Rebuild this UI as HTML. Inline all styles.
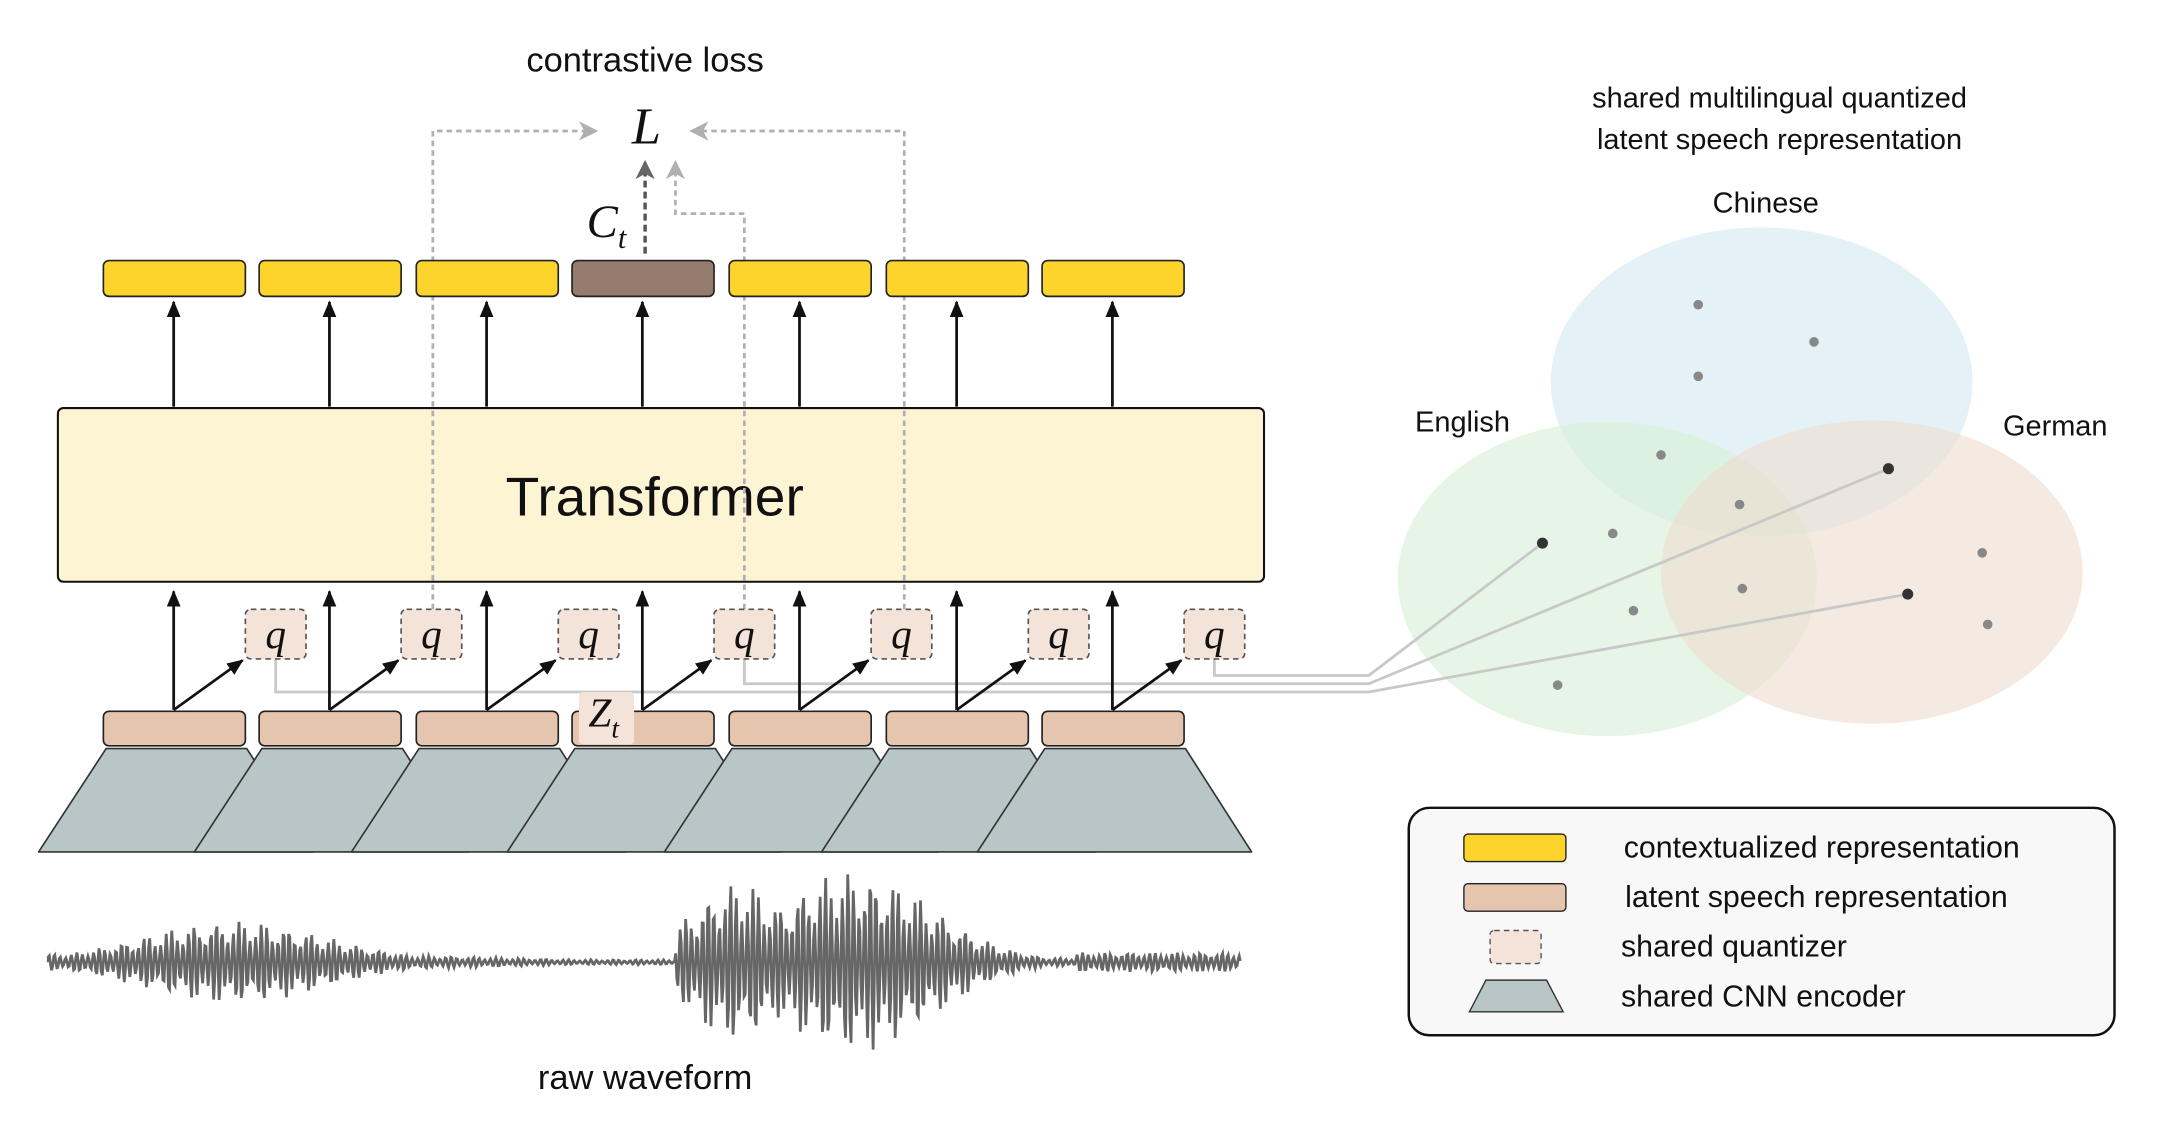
<!DOCTYPE html>
<html><head><meta charset="utf-8"><style>
html,body{margin:0;padding:0;background:#fff;}
svg{display:block;}
text{font-family:"Liberation Sans",sans-serif;fill:#111;}
.m{font-family:"Liberation Serif",serif;font-style:italic;}
</style></head><body>
<svg id="s" width="2160" height="1137" viewBox="0 0 1567 824.8" preserveAspectRatio="none" xmlns="http://www.w3.org/2000/svg">
<defs>
<marker id="ab" markerWidth="12" markerHeight="10" refX="11" refY="5" orient="auto" markerUnits="userSpaceOnUse"><path d="M0,0 L12,5 L0,10 z" fill="#111"/></marker>
<marker id="ag" markerWidth="14" markerHeight="14" refX="12" refY="7" orient="auto" markerUnits="userSpaceOnUse"><path d="M0,0 L14,7 L0,14 L4,7 z" fill="#b0b0b0"/></marker>
<marker id="ad" markerWidth="14" markerHeight="14" refX="12" refY="7" orient="auto" markerUnits="userSpaceOnUse"><path d="M0,0 L14,7 L0,14 L4,7 z" fill="#666"/></marker>
</defs>

<text x="468" y="52" font-size="25" text-anchor="middle">contrastive loss</text>
<text x="469" y="104" font-size="38" class="m" text-anchor="middle">L</text>
<text x="440" y="172" font-size="34" class="m" text-anchor="middle">C<tspan font-size="22" dy="8">t</tspan></text>

<ellipse cx="1278" cy="277" rx="153" ry="112" fill="#d9edf4" opacity="0.7"/>
<ellipse cx="1166" cy="420" rx="152" ry="114" fill="#d8f0d8" opacity="0.65"/>
<ellipse cx="1358" cy="415" rx="153" ry="110" fill="#efdccd" opacity="0.6"/>
<text x="1291" y="78" font-size="21" text-anchor="middle">shared multilingual quantized</text>
<text x="1291" y="108" font-size="21" text-anchor="middle">latent speech representation</text>
<text x="1281" y="154" font-size="21" text-anchor="middle">Chinese</text>
<text x="1061" y="313" font-size="21" text-anchor="middle">English</text>
<text x="1491" y="316" font-size="21" text-anchor="middle">German</text>
<g fill="#888">
<circle cx="1232" cy="221" r="3.5"/><circle cx="1316" cy="248" r="3.5"/><circle cx="1232" cy="273" r="3.5"/>
<circle cx="1205" cy="330" r="3.5"/><circle cx="1262" cy="366" r="3.5"/><circle cx="1170" cy="387" r="3.5"/>
<circle cx="1264" cy="427" r="3.5"/><circle cx="1185" cy="443" r="3.5"/><circle cx="1130" cy="497" r="3.5"/>
<circle cx="1438" cy="401" r="3.5"/><circle cx="1442" cy="453" r="3.5"/>
</g>

<g fill="none" stroke="#c8c8c8" stroke-width="2">
<polyline points="200,478 200,502 993,502 1384,431"/>
<polyline points="540,478 540,496 993,496 1370,340"/>
<polyline points="881,478 881,490 993,490 1119,394"/>
</g>
<g fill="#333"><circle cx="1119" cy="394" r="4"/><circle cx="1370" cy="340" r="4"/><circle cx="1384" cy="431" r="4"/></g>

<rect x="42" y="296" width="875" height="126" rx="4" fill="#fdf4d4" stroke="#111" stroke-width="1.5"/>
<text x="475" y="374" font-size="40" text-anchor="middle">Transformer</text>

<g fill="none" stroke="#b0b0b0" stroke-width="2" stroke-dasharray="4,3">
<polyline points="314,442 314,95 432,95" marker-end="url(#ag)"/>
<polyline points="656,442 656,95 502,95" marker-end="url(#ag)"/>
<polyline points="540,442 540,155 490,155 490,118" marker-end="url(#ag)"/>
</g>
<line x1="468" y1="184" x2="468" y2="118" stroke="#555" stroke-width="2.5" stroke-dasharray="5,3" marker-end="url(#ad)"/>

<g id="cols"></g>

<rect x="1022" y="586" width="512" height="165" rx="15" fill="#f8f8f8" stroke="#111" stroke-width="1.8"/>
<rect x="1062" y="605" width="74" height="20" rx="3" fill="#fdd42c" stroke="#222"/>
<rect x="1062" y="641" width="74" height="20" rx="3" fill="#e6c5ae" stroke="#222"/>
<rect x="1081" y="675" width="37" height="24" rx="3" fill="#f3e3d8" stroke="#555" stroke-dasharray="4,3"/>
<polygon points="1078,711 1122,711 1134,734 1066,734" fill="#b8c6c8" stroke="#333"/>
<text x="1178" y="622" font-size="22">contextualized representation</text>
<text x="1179" y="658" font-size="22">latent speech representation</text>
<text x="1176" y="694" font-size="22">shared quantizer</text>
<text x="1176" y="730" font-size="22">shared CNN encoder</text>

<path id="wave" fill="none" stroke="#666" stroke-width="2"/>
<text x="468" y="790" font-size="25" text-anchor="middle">raw waveform</text>
</svg>
<script>
var NS="http://www.w3.org/2000/svg",g=document.getElementById("cols");
function el(t,a){var e=document.createElementNS(NS,t);for(var k in a)e.setAttribute(k,a[k]);g.appendChild(e);return e;}
var cs=[126,239,353,466,580,694,807];
cs.forEach(function(c){var L=c-51;el("polygon",{points:(L+2)+",543 "+(L+104)+",543 "+(L+152)+",618 "+(L-47)+",618",fill:"#b8c6c8",stroke:"#333","stroke-width":"1.2","stroke-linejoin":"round"});});
cs.forEach(function(c,i){
 el("rect",{x:c-51,y:189,width:103,height:26,rx:4,fill:i==3?"#947d6e":"#fdd42c",stroke:"#222","stroke-width":"1.2"});
 el("line",{x1:c,y1:295,x2:c,y2:219,stroke:"#111","stroke-width":"2","marker-end":"url(#ab)"});
 el("rect",{x:c-51,y:516,width:103,height:25,rx:4,fill:"#e6c5ae",stroke:"#222","stroke-width":"1.2"});
 el("line",{x1:c,y1:515,x2:c,y2:429,stroke:"#111","stroke-width":"2","marker-end":"url(#ab)"});
 el("line",{x1:c,y1:515,x2:c+50,y2:479,stroke:"#111","stroke-width":"2","marker-end":"url(#ab)"});
});
cs.forEach(function(c){var x=c+74;
 el("rect",{x:x-22,y:442,width:44,height:36,rx:4,fill:"#f3e3d8",stroke:"#555","stroke-width":"1.2","stroke-dasharray":"4,3"});
 var t=el("text",{x:x,y:470,"font-size":"30","class":"m","text-anchor":"middle"});t.textContent="q";
});
el("rect",{x:420,y:502,width:40,height:38,rx:3,fill:"#f3e3d8"});
var z=el("text",{x:438,y:527,"font-size":"30","class":"m","text-anchor":"middle"});z.innerHTML='Z<tspan font-size="20" dy="8">t</tspan>';
var d="M35,698";
function env(x){
 if(x<295){var a=Math.exp(-Math.pow((x-170)/95,2))*30;return Math.max(a,6);}
 if(x<490)return 4*Math.max(0.2,1-(x-295)/150)+1;
 if(x<780){return Math.max(Math.exp(-Math.pow((x-535)/50,2))*58,Math.exp(-Math.pow((x-620)/80,2))*66,3);}
 return Math.max(Math.exp(-Math.pow((x-620)/80,2))*66,7);
}
for(var x=35;x<=900;x+=0.8){var s=Math.sin(x*1.55)*(0.75+0.25*Math.sin(x*0.37));d+=" L"+x.toFixed(1)+","+(698+env(x)*s).toFixed(1);}
document.getElementById("wave").setAttribute("d",d);
</script>
</body></html>
